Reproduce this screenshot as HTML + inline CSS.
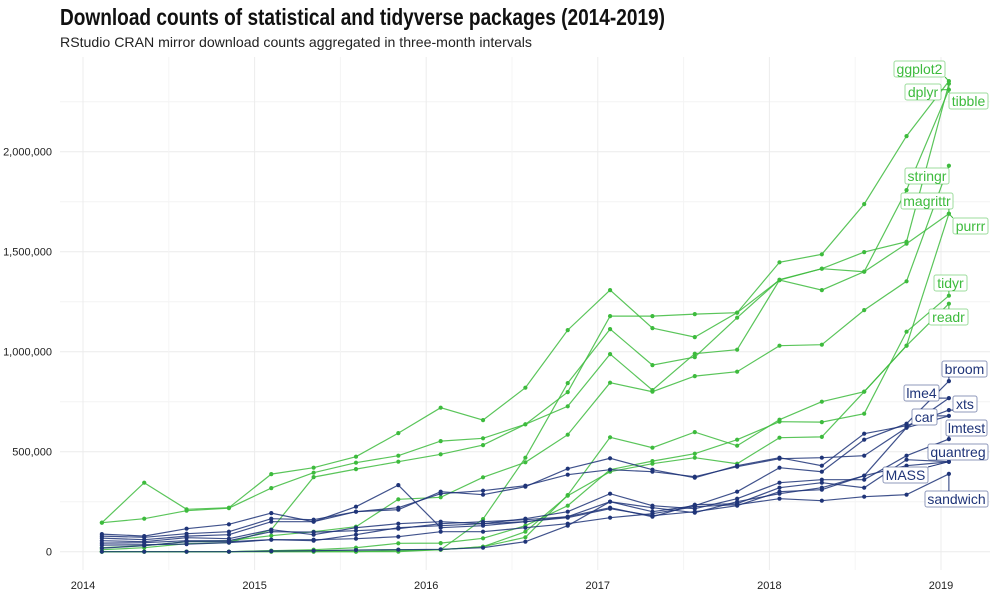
<!DOCTYPE html>
<html><head><meta charset="utf-8"><style>
html,body{margin:0;padding:0;background:#fff;}
svg{display:block;font-family:"Liberation Sans Narrow","Liberation Sans",sans-serif;}
</style></head><body>
<svg id="chart" width="1000" height="602" viewBox="0 0 1000 602">
<text x="60" y="25" font-size="23" font-weight="bold" fill="#111" textLength="605" lengthAdjust="spacingAndGlyphs">Download counts of statistical and tidyverse packages (2014-2019)</text>
<text x="60" y="47" font-size="14" fill="#222" textLength="472" lengthAdjust="spacingAndGlyphs">RStudio CRAN mirror download counts aggregated in three-month intervals</text>
<g id="grid"></g>
<g id="axes"></g>
<g id="series"></g>
<g id="labels"></g>
</svg>
<script>
const periods = [0,1,2,3,4,5,6,7,8,9,10,11,12,13,14,15,16,17,18,19,20];
const startYear = 2014.11;
const periodYears = 0.2468;
const yTicks = [0, 500000, 1000000, 1500000, 2000000];
const yTickLabels = ["0","500,000","1,000,000","1,500,000","2,000,000"];
const xTicks = [2014, 2015, 2016, 2017, 2018, 2019];
const seriesNames = ["ggplot2","dplyr","tibble","stringr","magrittr","purrr","tidyr","readr","broom","lme4","xts","car","lmtest","quantreg","MASS","sandwich"];
const seriesGroup = ["tidy","tidy","tidy","tidy","tidy","tidy","tidy","tidy","stat","stat","stat","stat","stat","stat","stat","stat"];
const ggplot2 = [145,345,212,220,388,420,475,593,720,658,820,1108,1308,1118,1073,1195,1447,1487,1738,2078,2353];
const dplyr = [145,165,205,218,318,395,445,480,553,567,637,727,988,808,990,1010,1358,1308,1400,1808,2310];
const tibble = [0,0,0,0,5,5,8,10,10,163,470,843,1113,933,973,1170,1360,1415,1498,1550,2340];
const stringr = [20,30,50,55,80,100,125,262,272,372,447,585,845,800,878,900,1030,1035,1208,1352,1930];
const magrittr = [10,20,40,45,110,373,413,450,487,533,637,798,1178,1178,1188,1195,1358,1415,1400,1540,1690];
const purrr = [0,0,0,0,0,0,0,5,10,25,72,283,572,520,598,530,660,750,800,1030,1690];
const tidyr = [0,0,0,0,5,10,20,42,43,67,130,230,410,453,490,560,650,648,690,1100,1280];
const readr = [0,0,0,0,0,0,0,0,10,25,100,280,400,440,470,440,570,574,800,1030,1240];
const broom = [0,0,0,0,3,5,8,10,12,20,50,130,250,200,230,300,420,400,560,640,853];
const lme4 = [88,78,115,137,193,150,225,333,120,130,150,170,215,180,200,230,300,310,380,620,768];
const xts = [78,72,90,100,165,160,200,210,300,285,325,415,467,410,370,430,470,430,590,630,708];
const car = [68,60,78,85,150,150,200,220,290,305,330,385,410,400,375,425,465,470,480,620,679];
const lmtest = [55,50,70,65,110,85,120,140,150,140,165,200,290,230,215,265,345,360,360,480,563];
const quantreg = [43,45,55,55,100,98,105,115,140,150,160,175,250,220,195,250,290,320,380,430,449];
const MASS = [33,35,38,45,60,55,85,120,130,140,150,175,220,175,235,240,320,345,320,460,450];
const sandwich = [18,30,50,50,60,60,65,75,100,100,120,140,170,190,225,235,265,255,275,285,389];
const seriesValues = [ggplot2,dplyr,tibble,stringr,magrittr,purrr,tidyr,readr,broom,lme4,xts,car,lmtest,quantreg,MASS,sandwich];
const labelBoxes = [[894,61,51],[905,84,36],[949,93,39],[905,168,44],[901,193,52],[953,218,35],[934,275,33],[929,309,39],[942,361,45],[904,385,35],[953,396,24],[912,409,25],[946,420,41],[928,444,60],[883,467,45],[925,491,63]];

const NS = "http://www.w3.org/2000/svg";
function mk(tag, attrs, parent){const e=document.createElementNS(NS,tag);for(const k in attrs)e.setAttribute(k,attrs[k]);parent.appendChild(e);return e;}
function xYear(y){return 83 + (y-2014)*171.6;}
function xScale(i){return xYear(startYear + i*periodYears);}
function yScale(v){return 551.7 - v/5000;}
const grid=document.getElementById('grid'), axes=document.getElementById('axes'), ser=document.getElementById('series'), lab=document.getElementById('labels');

for(let v=0; v<=2250000; v+=250000){
  const l=mk('line',{x1:60,x2:990,y1:yScale(v),y2:yScale(v),stroke:(v%500000===0)?'#ececec':'#f4f4f4','stroke-width':1},grid);
  
  
}
for(let y=2014; y<=2019.5; y+=0.5){
  const l=mk('line',{x1:xYear(y),x2:xYear(y),y1:57,y2:570,stroke:(y%1===0)?'#ececec':'#f4f4f4','stroke-width':1},grid);
  
  
}
yTicks.forEach((v,i)=>{
  const t=mk('text',{x:52,y:yScale(v)+4,'text-anchor':'end','font-size':11,fill:'#222'},axes);
  t.textContent=yTickLabels[i];
  
  
});
xTicks.forEach(v=>{
  const t=mk('text',{x:xYear(v),y:589,'text-anchor':'middle','font-size':11,fill:'#222'},axes);
  t.textContent=String(v);
  
  
});

seriesValues.forEach((vals,s)=>{
  const col = seriesGroup[s]==='tidy' ? '#3dbb3d' : '#1f3478';
  const g=mk('g',{},ser);
  
  
  const pts=periods.map(i=>xScale(i).toFixed(1)+','+yScale(vals[i]*1000).toFixed(1)).join(' ');
  const pl=mk('polyline',{points:pts,fill:'none',stroke:col,'stroke-width':1.2,'stroke-opacity':0.85},g);
  
  
  periods.forEach(i=>{
    const c=mk('circle',{cx:xScale(i),cy:yScale(vals[i]*1000),r:2.1,fill:col},g);
    
    
  });
  // label
  const b=labelBoxes[s];
  const ex=xScale(20), ey=yScale(vals[20]*1000);
  const cx=Math.min(Math.max(ex,b[0]),b[0]+b[2]), cy=Math.min(Math.max(ey,b[1]),b[1]+16);
  const seg=mk('line',{x1:ex,y1:ey,x2:cx,y2:cy,stroke:col,'stroke-width':1},lab);
  
  
  const r=mk('rect',{x:b[0],y:b[1],width:b[2],height:16,rx:2,fill:'#fff',stroke:col,'stroke-opacity':0.5,'stroke-width':1},lab);
  
  
  const t=mk('text',{x:b[0]+b[2]/2,y:b[1]+13,'text-anchor':'middle','font-size':14,fill:col,'font-family':'Liberation Sans, sans-serif'},lab);
  t.textContent=seriesNames[s];
  
  
});
</script>
</body></html>
